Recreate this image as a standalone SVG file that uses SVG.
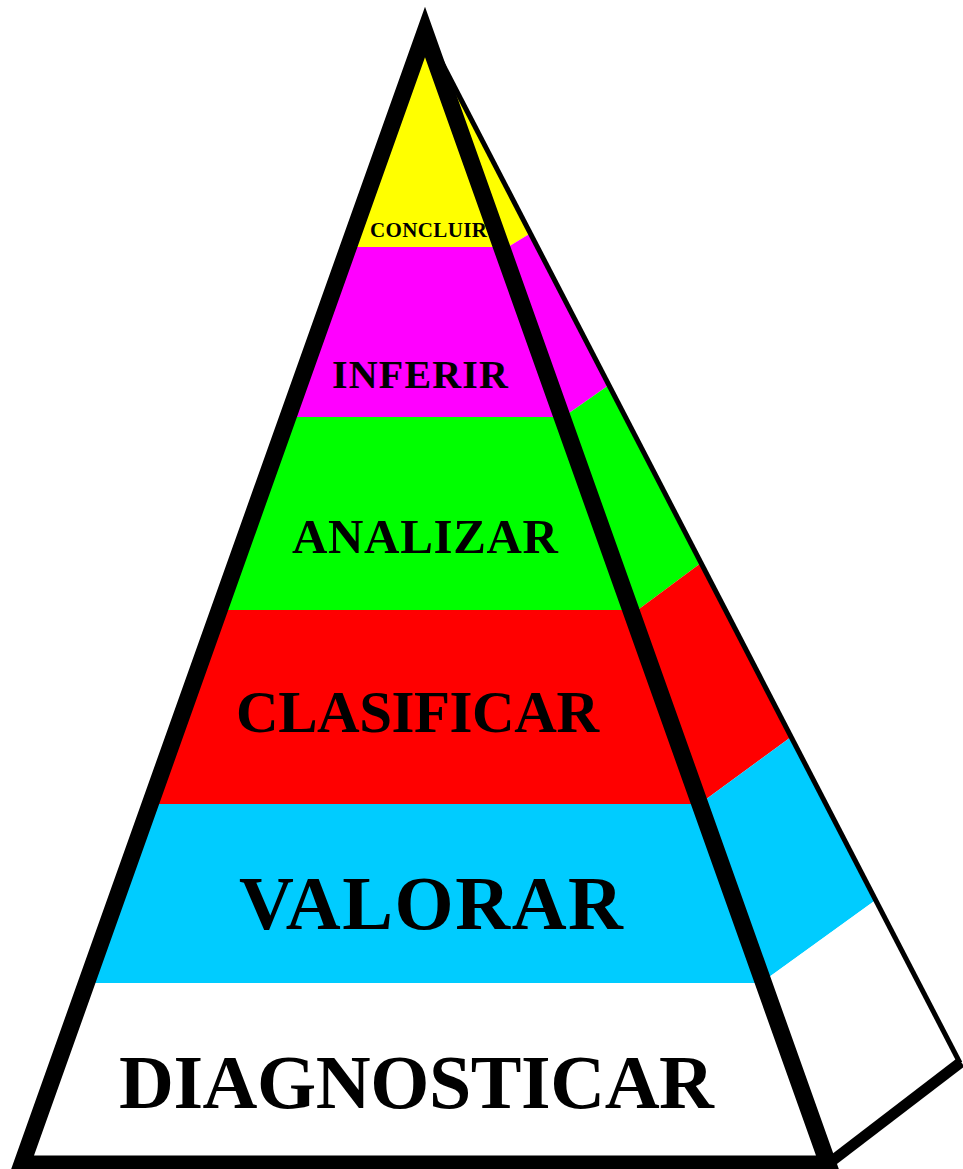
<svg xmlns="http://www.w3.org/2000/svg" width="963" height="1169" viewBox="0 0 963 1169">
  <style>
    .lbl { font-family: "Liberation Serif", "Times New Roman", serif; font-weight: bold; fill: #000; }
    .edge { fill: none; stroke: #000; }
  </style>
  <defs>
    <clipPath id="front">
      <polygon points="425,32 22,1164 828,1164"/>
    </clipPath>
  </defs>
  <rect x="0" y="0" width="963" height="1169" fill="#fff"/>

  <g id="concluir">
    <rect x="0" y="0" width="963" height="247" fill="#ffff00" clip-path="url(#front)"/>
    <polygon points="425,32 531,233 501.5,251" fill="#ffff00"/>
    <text class="lbl" x="370" y="237" font-size="21" textLength="117">CONCLUIR</text>
  </g>
  <g id="inferir">
    <rect x="0" y="247" width="963" height="170" fill="#ff00ff" clip-path="url(#front)"/>
    <polygon points="501.5,251 531,233 609,385 562,418" fill="#ff00ff"/>
    <text class="lbl" x="332" y="388" font-size="40" textLength="176">INFERIR</text>
  </g>
  <g id="analizar">
    <rect x="0" y="417" width="963" height="193" fill="#00ff00" clip-path="url(#front)"/>
    <polygon points="562,418 609,385 701,563 631,615" fill="#00ff00"/>
    <text class="lbl" x="292" y="553" font-size="49" textLength="266">ANALIZAR</text>
  </g>
  <g id="clasificar">
    <rect x="0" y="610" width="963" height="194" fill="#ff0000" clip-path="url(#front)"/>
    <polygon points="631,615 701,563 791,737 699.5,804" fill="#ff0000"/>
    <text class="lbl" x="236" y="732" font-size="59" textLength="363">CLASIFICAR</text>
  </g>
  <g id="valorar">
    <rect x="0" y="804" width="963" height="179" fill="#00ccff" clip-path="url(#front)"/>
    <polygon points="699.5,804 791,737 875.7,900 763.6,981" fill="#00ccff"/>
    <text class="lbl" x="239" y="929" font-size="76" textLength="384">VALORAR</text>
  </g>
  <g id="diagnosticar">
    <rect x="0" y="983" width="963" height="186" fill="#ffffff" clip-path="url(#front)"/>
    <polygon points="763.6,981 875.7,900 960,1063 828,1164" fill="#ffffff"/>
    <text class="lbl" x="119" y="1108" font-size="76" textLength="595">DIAGNOSTICAR</text>
  </g>

  <g id="outlines">
    <line class="edge" x1="425" y1="30" x2="960" y2="1063" stroke-width="5"/>
    <line class="edge" x1="828" y1="1164" x2="961" y2="1062" stroke-width="11"/>
    <polygon class="edge" points="425,32 22,1164 828,1164" stroke-width="17" stroke-linejoin="miter" stroke-miterlimit="10"/>
  </g>
</svg>
